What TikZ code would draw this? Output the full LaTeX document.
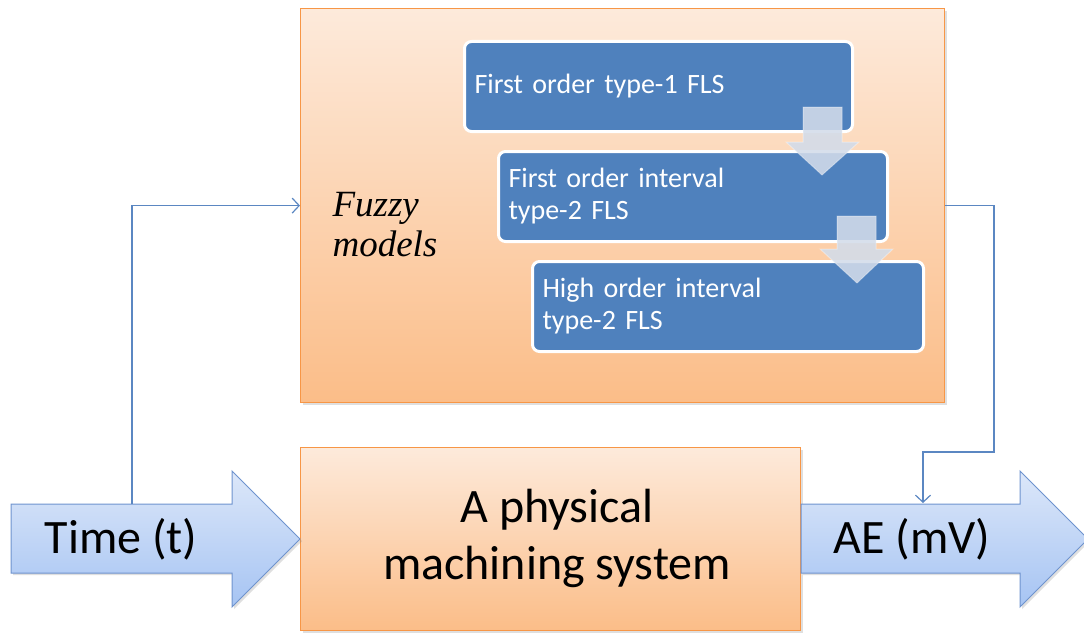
\documentclass[tikz,border=0pt]{standalone}
\usepackage{fontspec}
\setmainfont{Carlito}
\newfontfamily\serifface{Liberation Serif}
\newfontfamily\flsface[WordSpace=1.8]{Carlito}
\usetikzlibrary{arrows.meta,shadows,calc}

\definecolor{peachTop}{HTML}{FDEADB}
\definecolor{peachBot}{HTML}{FBBD88}
\definecolor{peachEdge}{HTML}{F79646}
\definecolor{flsBlue}{HTML}{4F81BD}
\definecolor{flowTop}{HTML}{DCE7F9}
\definecolor{flowBot}{HTML}{A6C4F3}
\definecolor{flowEdge}{HTML}{6E93CE}
\definecolor{linkBlue}{HTML}{5B87C2}
\definecolor{stepArrow}{HTML}{D3DCEA}

\tikzset{
  peachbox/.style={draw=peachEdge, line width=1.2pt, top color=peachTop, bottom color=peachBot,
    drop shadow={opacity=0.25, shadow xshift=2pt, shadow yshift=-2pt}},
  flsbox/.style={draw=white, line width=3pt, fill=flsBlue, rounded corners=7pt,
    anchor=north west, minimum height=90pt, inner xsep=9pt, align=left,
    text=white, font=\flsface\fontsize{28}{32}\selectfont},
  flowarrow/.style={draw=flowEdge, line width=1pt, top color=flowTop, bottom color=flowBot,
    drop shadow={opacity=0.25, shadow xshift=2pt, shadow yshift=-2pt}},
  downarrow/.style={fill=stepArrow, fill opacity=0.88, draw=white, draw opacity=0.35, line width=1pt},
  link/.style={draw=linkBlue, line width=1.2pt, -{Straight Barb[length=7pt,width=15pt,line width=1.2pt]}},
  bigtext/.style={font=\fontsize{48}{57}\selectfont, align=center}
}

\begin{document}
\begin{tikzpicture}[x=1pt, y=-1pt]
  \useasboundingbox (0,0) rectangle (1084,634);

  % fuzzy model block
  \node[peachbox, minimum width=644pt, minimum height=394pt, anchor=north west] (fuzzy) at (300,8) {};
  \node[anchor=west, align=left, font=\serifface\itshape\fontsize{37}{40}\selectfont] (fuzzytxt) at (329,225) {Fuzzy\\models};

  % the three FLS stages
  \node[flsbox, minimum width=388pt, text width=368pt] (fls1) at (463,40) {First order type-1 FLS};
  \node[flsbox, minimum width=389pt, text width=369pt] (fls2) at (497,150) {First order interval\\type-2 FLS};
  \node[flsbox, minimum width=391pt, text width=371pt] (fls3) at (531,260) {High order interval\\type-2 FLS};

  % translucent step arrows between the stages
  \coordinate (s1) at (822,175);
  \coordinate (s2) at (857,283);
  \path[downarrow] (803,107) -- (842,107) -- (842,142) -- (859,142) -- (s1) -- (786,142) -- (803,142) -- cycle;
  \path[downarrow] (837,216) -- (876,216) -- (876,249) -- (893,249) -- (s2) -- (820,249) -- (837,249) -- cycle;

  % physical system block
  \node[peachbox, minimum width=500pt, minimum height=183pt, anchor=north west] (sys) at (300,447) {};
  \node[bigtext] (systxt) at (557,538) {A physical\\machining system};

  % input arrow
  \path[flowarrow] (11,504) -- (232,504) -- (232,471) -- (300,539) -- (232,607) -- (232,573) -- (11,573) -- cycle;
  \node[bigtext] (time) at (121,539) {Time (t)};

  % output arrow
  \path[flowarrow] (801,504) -- (1020,504) -- (1020,471) -- (1088,539) -- (1020,607) -- (1020,573) -- (801,573) -- cycle;
  \node[bigtext] (ae) at (912,539) {AE (mV)};

  % connections
  \coordinate (timeTap) at (132,504);
  \coordinate (aeIn) at (923,503);
  \coordinate (rightBend) at (994,452);
  \draw[link] (timeTap) |- (fuzzy.west);
  \draw[link] (fuzzy.east) -| (rightBend) -| (aeIn);
\end{tikzpicture}
\end{document}
